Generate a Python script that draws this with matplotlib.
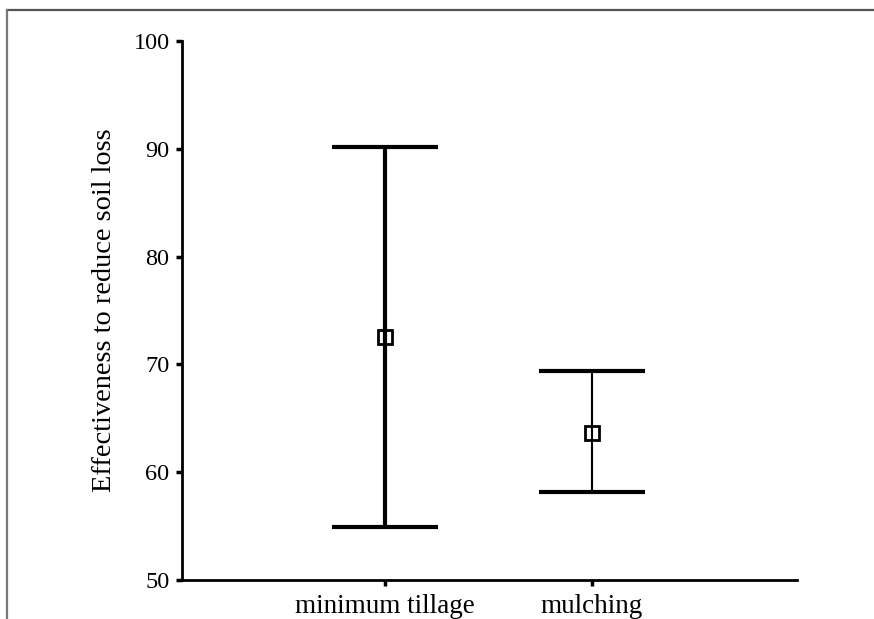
import matplotlib
matplotlib.use("Agg")
import matplotlib.pyplot as plt
from matplotlib.lines import Line2D

categories = ["minimum tillage", "mulching"]
means = [72.5, 63.6]
upper = [90.2, 69.4]
lower = [54.9, 58.2]
yticks = [50, 60, 70, 80, 90, 100]

plt.rcParams['font.family'] = ['Liberation Serif', 'DejaVu Serif']

W, H = 874, 619
fig = plt.figure(figsize=(W/100, H/100), dpi=100)
ax = fig.add_axes([182/W, 1-580/H, (797-182)/W, (580-41)/H])

xs = [1, 2]
lws = [3.0, 1.5]
for x, m, u, l, lw in zip(xs, means, upper, lower, lws):
    ax.errorbar([x], [m], yerr=[[m-l], [u-m]], fmt='none', ecolor='black',
                elinewidth=lw, capsize=38, capthick=3.0, zorder=2)
    ax.plot([x], [m], marker='s', markersize=9.5, markerfacecolor='white',
            markeredgecolor='black', markeredgewidth=2.0, linestyle='none', zorder=3)
    ax.plot([x, x], [m-0.65, m+0.65], color='black', lw=lw, zorder=4)

ax.set_xlim(0.02, 2.99)
ax.set_ylim(50, 100)
ax.set_xticks(xs)
ax.set_xticklabels(categories, fontsize=19.5)
ax.set_yticks(yticks)
ax.set_yticklabels([str(v) for v in yticks], fontsize=17.5)
ax.set_ylabel("Effectiveness to reduce soil loss", fontsize=20.4, labelpad=12)
for s in ['top', 'right']:
    ax.spines[s].set_visible(False)
for s in ['left', 'bottom']:
    ax.spines[s].set_linewidth(2)
ax.tick_params(direction='out', length=4, width=2.5, pad=5)
ax.tick_params(axis='x', pad=6)

# outer frame lines (top and left)
fig.add_artist(Line2D([7/W, 1], [1-10/H, 1-10/H], color='#555555', lw=1.6, transform=fig.transFigure))
fig.add_artist(Line2D([7/W, 7/W], [0, 1-10/H], color='#777777', lw=1.6, transform=fig.transFigure))

fig.savefig("out.png", dpi=100)
